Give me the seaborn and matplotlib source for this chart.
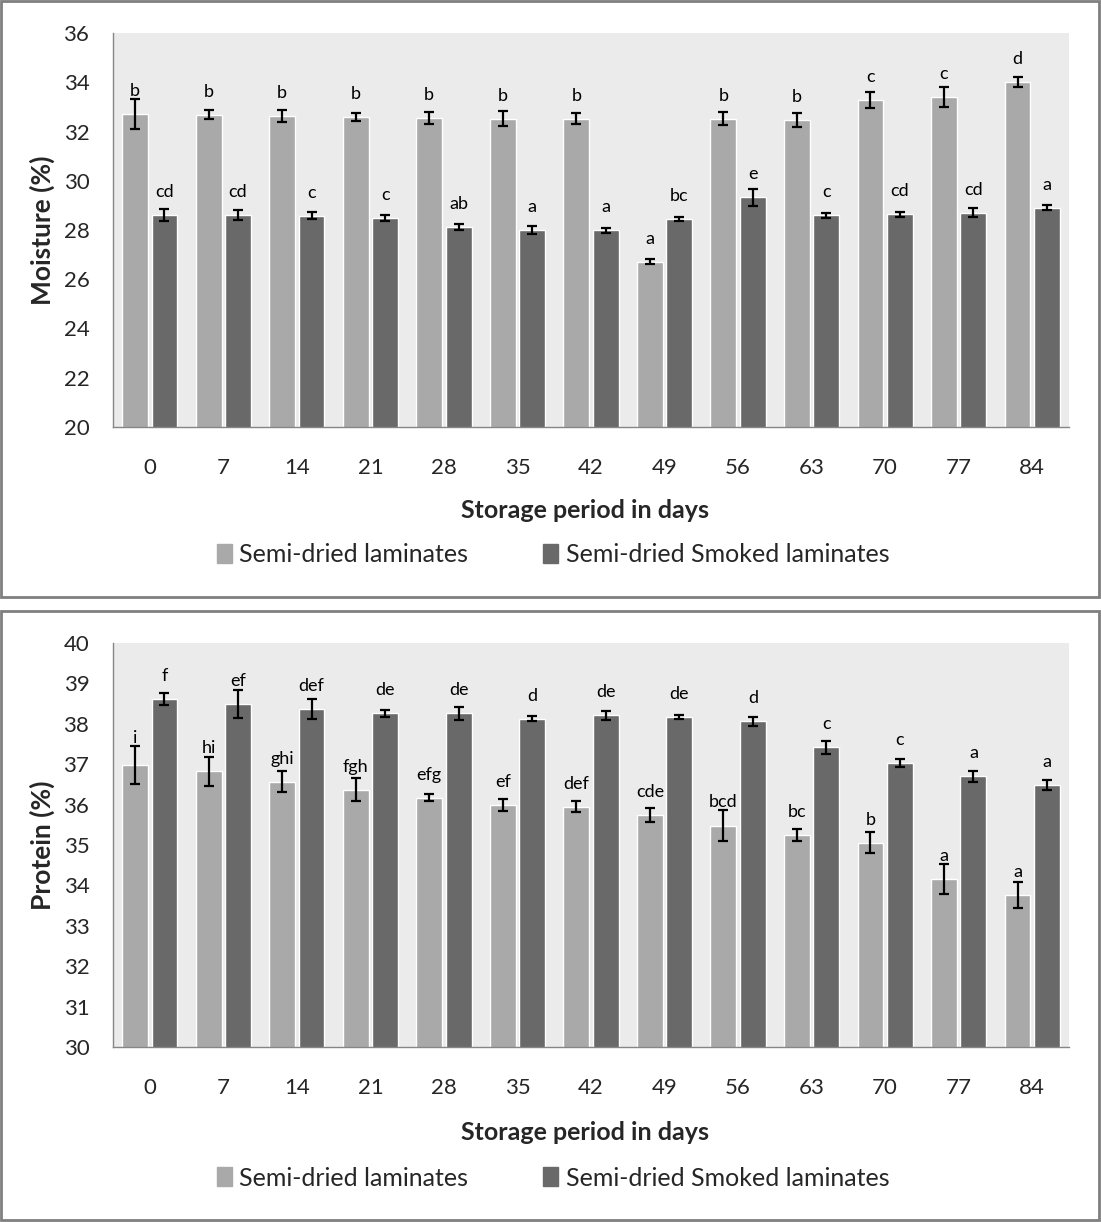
#%% import
import matplotlib
matplotlib.use('Agg')
import matplotlib.pyplot as plt
import matplotlib.patches as mpatches
from matplotlib.ticker import FixedLocator
import numpy as np
import pandas as pd
import seaborn as sns

sns.set_style('white')
plt.rcParams['font.family'] = ['Lato', 'DejaVu Sans']

#%% data
days = ['0', '7', '14', '21', '28', '35', '42', '49', '56', '63', '70', '77', '84']
series = ['Semi-dried laminates', 'Semi-dried Smoked laminates']

moisture_semi = [32.71, 32.69, 32.64, 32.59, 32.55, 32.52, 32.52, 26.72, 32.52, 32.48, 33.29, 33.40, 34.02]
moisture_semi_err = [0.62, 0.18, 0.24, 0.18, 0.23, 0.31, 0.23, 0.09, 0.26, 0.29, 0.32, 0.40, 0.20]
moisture_smoked = [28.62, 28.62, 28.58, 28.49, 28.13, 28.01, 27.98, 28.43, 29.32, 28.59, 28.63, 28.71, 28.91]
moisture_smoked_err = [0.24, 0.20, 0.14, 0.12, 0.11, 0.16, 0.10, 0.08, 0.35, 0.09, 0.11, 0.18, 0.11]
moisture_semi_lbl = ['b', 'b', 'b', 'b', 'b', 'b', 'b', 'a', 'b', 'b', 'c', 'c', 'd']
moisture_smoked_lbl = ['cd', 'cd', 'c', 'c', 'ab', 'a', 'a', 'bc', 'e', 'c', 'cd', 'cd', 'a']

protein_semi = [36.97, 36.82, 36.57, 36.37, 36.17, 36.00, 35.95, 35.75, 35.48, 35.25, 35.06, 34.16, 33.77]
protein_semi_err = [0.47, 0.36, 0.27, 0.28, 0.09, 0.15, 0.14, 0.17, 0.38, 0.15, 0.27, 0.37, 0.32]
protein_smoked = [38.61, 38.49, 38.37, 38.26, 38.26, 38.13, 38.21, 38.18, 38.06, 37.42, 37.02, 36.70, 36.48]
protein_smoked_err = [0.14, 0.34, 0.25, 0.08, 0.16, 0.07, 0.11, 0.05, 0.12, 0.16, 0.10, 0.14, 0.12]
protein_semi_lbl = ['i', 'hi', 'ghi', 'fgh', 'efg', 'ef', 'def', 'cde', 'bcd', 'bc', 'b', 'a', 'a']
protein_smoked_lbl = ['f', 'ef', 'def', 'de', 'de', 'd', 'de', 'de', 'd', 'c', 'c', 'a', 'a']

colors = ['#A9A9A9', '#696969']
grey = '#868686'

#%% figure
W, H = 1101, 1222
fig = plt.figure(figsize=(W / 100, H / 100), dpi=100)

def px_box(x0, y0, x1, y1):
    # pixel box (top-left origin) to figure fraction [left, bottom, width, height]
    return [x0 / W, 1 - y1 / H, (x1 - x0) / W, (y1 - y0) / H]

for box in [(1, 1, 1099, 597), (1, 611, 1099, 1220)]:
    l, b, w, h = px_box(*box)
    fig.patches.append(mpatches.Rectangle((l, b), w, h, transform=fig.transFigure,
                                          fill=False, edgecolor='#7F7F7F', linewidth=2))


def panel(axbox, v1, e1, l1, v2, e2, l2, ylim, step, ylabel, xlab_y, leg_y):
    ax = fig.add_axes(px_box(*axbox))
    df = pd.DataFrame({'day': days * 2,
                       'value': v1 + v2,
                       'series': [series[0]] * len(days) + [series[1]] * len(days)})
    sns.barplot(data=df, x='day', y='value', hue='series', palette=colors,
                errorbar=None, width=0.8, gap=0.12, saturation=1, ax=ax, legend=False)
    ax.set_xlim(-0.5, len(days) - 0.5)
    ax.set_ylim(*ylim)
    # data units per pixel, for placing the letters
    upp = (ylim[1] - ylim[0]) / (axbox[3] - axbox[1])
    for cont, errs, lbls in zip(ax.containers, [e1, e2], [l1, l2]):
        xs = [p.get_x() + p.get_width() / 2 for p in cont]
        ys = [p.get_height() for p in cont]
        ax.errorbar(xs, ys, yerr=errs, fmt='none', ecolor='black', elinewidth=1.6,
                    capsize=3.8, capthick=1.6)
        for x, y, e, t in zip(xs, ys, errs, lbls):
            ty = max(y + 23 * upp, y + e + 8 * upp)
            ax.text(x, ty, t, ha='center', va='center', fontsize=13, color='black')
    ax.set_facecolor('#EBEBEB')
    ax.set_yticks(np.arange(ylim[0], ylim[1] + 0.01, step))
    ax.xaxis.set_minor_locator(FixedLocator(np.arange(-0.5, len(days), 1)))
    ax.tick_params(axis='x', which='major', length=0, pad=22, labelsize=16)
    ax.tick_params(axis='x', which='minor', length=8, width=1, color=grey, direction='out')
    ax.tick_params(axis='y', length=7, width=1, color=grey, direction='out', pad=10, labelsize=16)
    for s in ['top', 'right']:
        ax.spines[s].set_visible(False)
    for s in ['left', 'bottom']:
        ax.spines[s].set_color(grey)
        ax.spines[s].set_linewidth(1)
    ax.set_xlabel('')
    ax.set_ylabel(ylabel, fontsize=19, fontweight='bold')
    ax.yaxis.set_label_coords(-0.061, 0.5)
    fig.text(585 / W, 1 - xlab_y / H, 'Storage period in days', ha='center', va='center',
             fontsize=18, fontweight='bold')
    handles = [mpatches.Patch(color=c, label=s) for c, s in zip(colors, series)]
    fig.legend(handles=handles, loc='center', bbox_to_anchor=(553 / W, 1 - leg_y / H), ncol=2,
               frameon=False, fontsize=18, handlelength=0.6, handleheight=0.8,
               handletextpad=0.3, columnspacing=3)
    return ax


panel((113, 33, 1069, 427), moisture_semi, moisture_semi_err, moisture_semi_lbl,
      moisture_smoked, moisture_smoked_err, moisture_smoked_lbl,
      (20, 36), 2, 'Moisture (%)', 511, 555)
panel((113, 643, 1069, 1047), protein_semi, protein_semi_err, protein_semi_lbl,
      protein_smoked, protein_smoked_err, protein_smoked_lbl,
      (30, 40), 1, 'Protein (%)', 1132, 1178)

fig.savefig('out.png', dpi=100)
